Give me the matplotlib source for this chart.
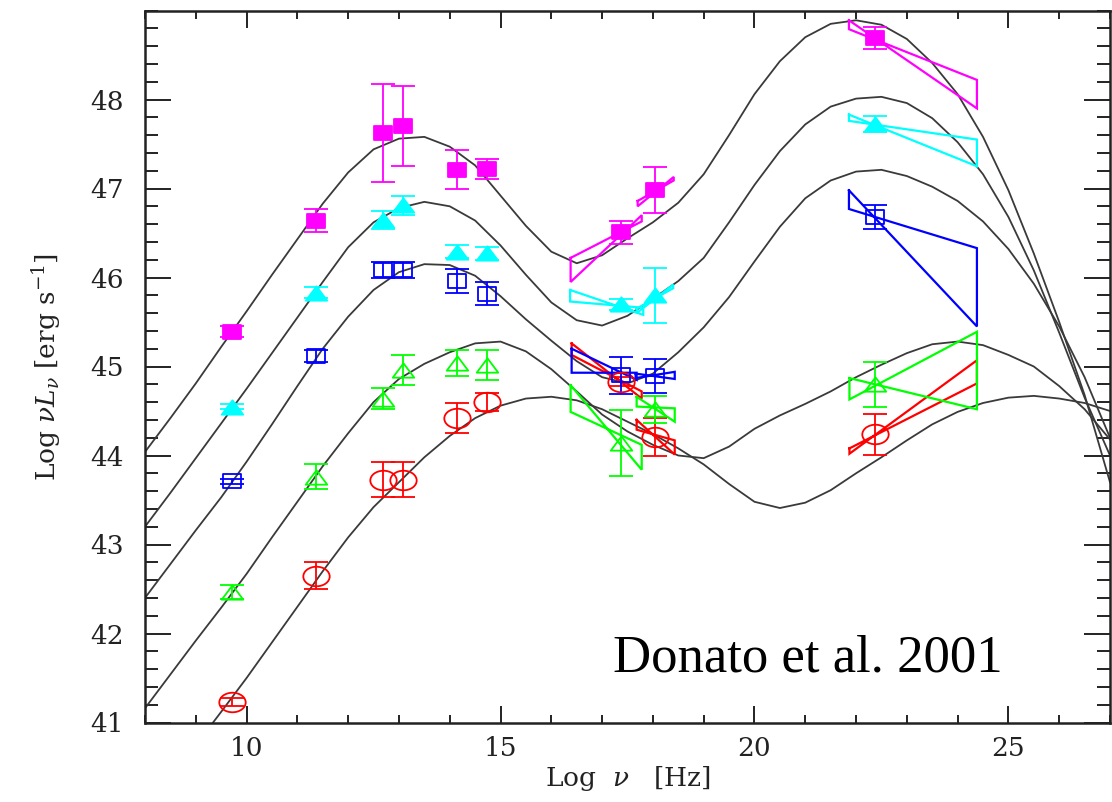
import numpy as np
import matplotlib
matplotlib.use("Agg")
import matplotlib.pyplot as plt
from matplotlib.path import Path
from matplotlib.ticker import MultipleLocator, FixedLocator

# ---------------- data ----------------
# model SED curves, common frequency grid
curve_x = [8.0, 8.5, 9.0, 9.5, 10.0, 10.5, 11.0, 11.5, 12.0, 12.5, 13.0, 13.5, 14.0,
           14.5, 15.0, 15.5, 16.0, 16.5, 17.0, 17.5, 18.0, 18.5, 19.0, 19.5, 20.0,
           20.5, 21.0, 21.5, 22.0, 22.5, 23.0, 23.5, 24.0, 24.5, 25.0, 25.5, 26.0,
           26.5, 27.0]
curve1 = [44.04, 44.42, 44.81, 45.22, 45.62, 46.03, 46.43, 46.83, 47.18, 47.44, 47.56,
          47.58, 47.47, 47.26, 46.92, 46.58, 46.29, 46.16, 46.25, 46.44, 46.62, 46.84,
          47.16, 47.60, 48.06, 48.43, 48.70, 48.85, 48.89, 48.84, 48.68, 48.41, 48.06,
          47.58, 46.98, 46.27, 45.50, 44.68, 43.70]
curve2 = [43.20, 43.58, 43.97, 44.36, 44.75, 45.15, 45.55, 45.95, 46.34, 46.62, 46.78,
          46.85, 46.80, 46.64, 46.36, 46.03, 45.72, 45.52, 45.46, 45.57, 45.76, 45.96,
          46.22, 46.62, 47.04, 47.42, 47.72, 47.92, 48.01, 48.03, 47.96, 47.79, 47.52,
          47.16, 46.68, 46.08, 45.38, 44.65, 44.00]
curve3 = [42.40, 42.78, 43.16, 43.53, 43.93, 44.35, 44.78, 45.20, 45.56, 45.86, 46.06,
          46.15, 46.14, 46.02, 45.79, 45.53, 45.29, 45.06, 44.88, 44.81, 44.92, 45.16,
          45.44, 45.78, 46.18, 46.57, 46.89, 47.09, 47.19, 47.21, 47.14, 47.02, 46.86,
          46.63, 46.32, 45.93, 45.45, 44.88, 44.20]
curve4 = [41.16, 41.54, 41.92, 42.29, 42.67, 43.08, 43.48, 43.88, 44.25, 44.60, 44.86,
          45.03, 45.16, 45.26, 45.28, 45.17, 44.97, 44.72, 44.46, 44.27, 44.12, 44.00,
          43.97, 44.10, 44.30, 44.45, 44.58, 44.72, 44.88, 45.02, 45.15, 45.25, 45.28,
          45.24, 45.13, 45.00, 44.78, 44.52, 44.18]
curve5_x = [9.34, 9.5, 10.0, 10.5, 11.0, 11.5, 12.0, 12.5, 13.0, 13.5, 14.0, 14.5, 15.0,
            15.5, 16.0, 16.5, 17.0, 17.5, 18.0, 18.5, 19.0, 19.5, 20.0, 20.5, 21.0, 21.5,
            22.0, 22.5, 23.0, 23.5, 24.0, 24.5, 25.0, 25.5, 26.0, 26.5, 27.0]
curve5 = [41.00, 41.12, 41.50, 41.90, 42.30, 42.70, 43.08, 43.42, 43.70, 43.98, 44.22,
          44.42, 44.56, 44.64, 44.66, 44.62, 44.52, 44.38, 44.24, 44.08, 43.90, 43.68,
          43.48, 43.41, 43.47, 43.61, 43.80, 43.98, 44.17, 44.35, 44.49, 44.59, 44.65,
          44.67, 44.64, 44.59, 44.50]

# averaged SED points (radio, mm, IR, IR, near-IR, optical, 1 keV, 5 keV, 100 MeV)
sed_x = [9.72, 11.37, 12.69, 13.08, 14.15, 14.74, 17.38, 18.04, 22.38]
mag_y = [45.39, 46.64, 47.62, 47.70, 47.21, 47.22, 46.51, 46.98, 48.69]
mag_e = [0.06, 0.13, 0.55, 0.45, 0.22, 0.11, 0.13, 0.26, 0.12]
cya_y = [44.55, 45.83, 46.65, 46.81, 46.29, 46.27, 45.70, 45.80, 47.72]
cya_e = [0.03, 0.06, 0.10, 0.11, 0.07, 0.07, 0.06, 0.31, 0.09]
blu_y = [43.71, 45.12, 46.08, 46.08, 45.96, 45.82, 44.90, 44.89, 46.68]
blu_e = [0.03, 0.07, 0.09, 0.09, 0.13, 0.13, 0.21, 0.19, 0.13]
gre_y = [42.47, 43.76, 44.64, 44.96, 45.04, 45.02, 44.14, 44.52, 44.80]
gre_e = [0.08, 0.14, 0.12, 0.17, 0.15, 0.17, 0.37, 0.15, 0.25]
red_y = [41.23, 42.65, 43.73, 43.73, 44.42, 44.60, 44.83, 44.21, 44.24]
red_e = [0.04, 0.15, 0.20, 0.20, 0.17, 0.10, 0.05, 0.21, 0.23]

# spectral "bow-ties": x_left, x_right, y_left_top, y_left_bottom, y_right_top, y_right_bottom
mag_bows = [(16.38, 17.78, 46.22, 45.95, 46.70, 46.63),
            (17.70, 18.41, 46.86, 46.80, 47.13, 47.09),
            (21.86, 24.38, 48.89, 48.79, 48.22, 47.90)]
cya_bows = [(16.37, 17.81, 45.86, 45.73, 45.66, 45.58),
            (17.68, 18.40, 45.65, 45.60, 45.92, 45.88),
            (21.86, 24.38, 47.83, 47.76, 47.55, 47.25)]
blu_bows = [(16.40, 17.68, 45.20, 44.93, 44.93, 44.85),
            (17.66, 18.43, 44.92, 44.87, 44.94, 44.86),
            (21.86, 24.38, 46.98, 46.77, 46.33, 45.45)]
gre_bows = [(16.38, 17.78, 44.79, 44.49, 44.12, 43.84),
            (17.68, 18.43, 44.66, 44.55, 44.53, 44.38),
            (21.87, 24.38, 44.87, 44.63, 45.39, 44.52)]
red_bows = [(16.40, 17.78, 45.26, 45.13, 44.72, 44.64),
            (17.68, 18.43, 44.40, 44.29, 44.17, 44.01),
            (21.87, 24.38, 44.08, 44.02, 45.07, 44.81)]

x_ticks = [10, 15, 20, 25]
y_ticks = [41, 42, 43, 44, 45, 46, 47, 48]
annotation = "Donato et al. 2001"

# ---------------- drawing ----------------
plt.rcParams['mathtext.fontset'] = 'dejavuserif'
fig = plt.figure(figsize=(11.12, 8.02), dpi=100)
ax = fig.add_axes([145 / 1112, 1 - 722.5 / 802, 965 / 1112, 712 / 802])
ax.set_xlim(8, 27)
ax.set_ylim(41, 49)

curve_color = '#3a3a3a'
for cy in (curve1, curve2, curve3, curve4):
    ax.plot(curve_x, cy, color=curve_color, lw=1.3, zorder=2,
            solid_joinstyle='round')
ax.plot(curve5_x, curve5, color=curve_color, lw=1.3, zorder=2,
        solid_joinstyle='round')

# marker shapes (wider than tall, as in the original)
rect_m = Path([(-0.72, -0.5), (0.72, -0.5), (0.72, 0.5), (-0.72, 0.5), (-0.72, -0.5)],
              [Path.MOVETO, Path.LINETO, Path.LINETO, Path.LINETO, Path.CLOSEPOLY])
tri_m = Path([(0, 0.5), (-0.75, -0.5), (0.75, -0.5), (0, 0.5)],
             [Path.MOVETO, Path.LINETO, Path.LINETO, Path.CLOSEPOLY])
uc = Path.unit_circle()
ell_m = Path(uc.vertices * np.array([1.35, 1.0]), uc.codes)

series = [
    ('#ff0000', red_y, red_e, red_bows, ell_m, False, 19.0),
    ('#00ff00', gre_y, gre_e, gre_bows, tri_m, False, 15.5),
    ('#0000ff', blu_y, blu_e, blu_bows, rect_m, False, 13.5),
    ('#00ffff', cya_y, cya_e, cya_bows, tri_m, True, 15.5),
    ('#ff00ff', mag_y, mag_e, mag_bows, rect_m, True, 13.5),
]

for color, ys, es, bows, mk, filled, ms in series:
    for (xl, xr, ylt, ylb, yrt, yrb) in bows:
        ax.plot([xl, xr, xr, xl, xl], [ylt, yrb, yrt, ylb, ylt],
                color=color, lw=1.6, zorder=3, solid_joinstyle='miter')
    ax.errorbar(sed_x, ys, yerr=es, fmt='none', ecolor=color, elinewidth=1.3,
                capsize=8.6, capthick=1.3, zorder=4)
    ax.plot(sed_x, ys, ls='none', marker=mk, ms=ms,
            mfc=color if filled else 'none', mec=color, mew=1.3, zorder=5)

ax.text(17.21, 41.57, annotation, fontsize=38, family='Liberation Serif',
        color='black', va='baseline', ha='left', zorder=6)

# axes styling
ax.xaxis.set_major_locator(FixedLocator(x_ticks))
ax.xaxis.set_minor_locator(MultipleLocator(1))
ax.yaxis.set_major_locator(FixedLocator(y_ticks))
ax.yaxis.set_minor_locator(MultipleLocator(0.2))
ax.tick_params(axis='both', which='both', direction='in', top=True, right=True,
               colors='#222222', width=1.4)
ax.tick_params(axis='x', which='major', length=12, pad=10, labelsize=19)
ax.tick_params(axis='x', which='minor', length=6)
ax.tick_params(axis='y', which='major', length=18.5, pad=15, labelsize=19)
ax.tick_params(axis='y', which='minor', length=9.3)
for lab in ax.get_xticklabels() + ax.get_yticklabels():
    lab.set_family('DejaVu Serif')
    lab.set_color('#222222')
for sp in ax.spines.values():
    sp.set_linewidth(1.8)
    sp.set_color('#222222')

ax.set_xlabel(r'Log  $\nu$   [Hz]', fontsize=19, family='DejaVu Serif', labelpad=2,
              color='#222222')
ax.set_ylabel(r'Log $\nu L_\nu$ [erg s$^{-1}$]', fontsize=19, family='DejaVu Serif',
              labelpad=20, color='#222222')

fig.savefig('out.png', dpi=100, facecolor='white')
